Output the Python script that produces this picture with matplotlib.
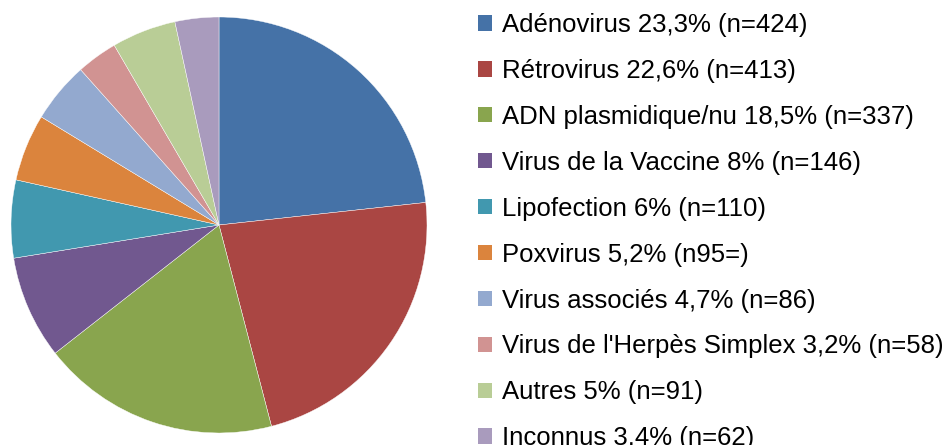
import matplotlib.pyplot as plt

plt.rcParams['font.family'] = ['Liberation Sans', 'DejaVu Sans']

labels = [
    "Adénovirus 23,3% (n=424)",
    "Rétrovirus 22,6% (n=413)",
    "ADN plasmidique/nu 18,5% (n=337)",
    "Virus de la Vaccine 8% (n=146)",
    "Lipofection 6% (n=110)",
    "Poxvirus 5,2% (n95=)",
    "Virus associés 4,7% (n=86)",
    "Virus de l'Herpès Simplex 3,2% (n=58)",
    "Autres 5% (n=91)",
    "Inconnus 3,4% (n=62)",
]
counts = [424, 413, 337, 146, 110, 95, 86, 58, 91, 62]
colors = ['#4572A7', '#AA4643', '#89A54E', '#71588F', '#4198AF',
          '#DB843D', '#93A9CF', '#D19392', '#B9CD96', '#A99BBD']

fig = plt.figure(figsize=(9.51, 4.45), dpi=100)

# pie centred at (219, 225) px from top-left, radius 208 px
r = 208
ax = fig.add_axes([(219 - r) / 951, (220 - r) / 445, 2 * r / 951, 2 * r / 445])
wedges, _ = ax.pie(counts, colors=colors, startangle=90, counterclock=False,
                   wedgeprops=dict(edgecolor='white', linewidth=0.3))
ax.set_xlim(-1, 1)
ax.set_ylim(-1, 1)
ax.set_aspect('equal')

leg = fig.legend(wedges, labels, loc='upper left', bbox_to_anchor=(478 / 951, 1.0 - 13 / 445),
                 frameon=False, fontsize=18.5, handlelength=0.55, handleheight=0.55,
                 handletextpad=0.39, labelspacing=0.853, borderaxespad=0, borderpad=0)
for h in leg.legend_handles:
    h.set_linewidth(0)

fig.savefig('out.png', dpi=100)
